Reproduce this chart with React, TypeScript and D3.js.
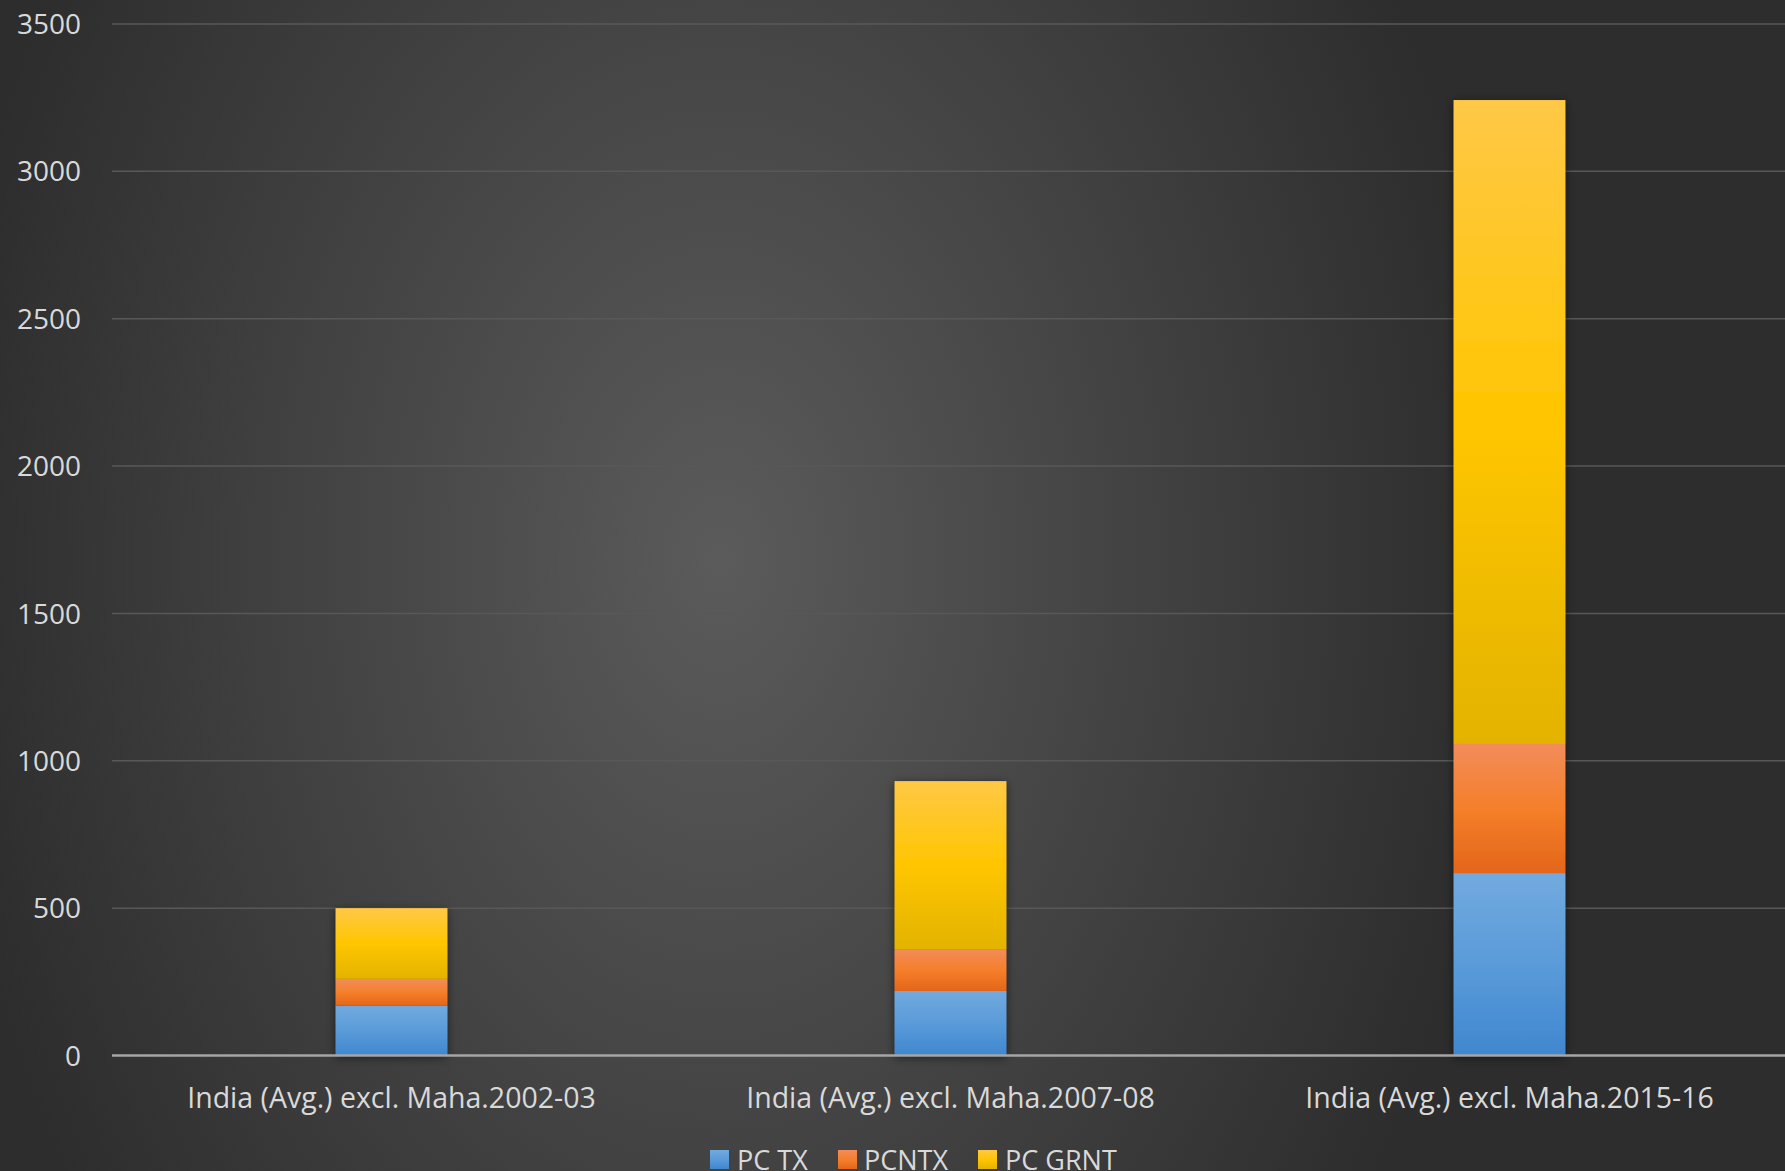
import React from "react";
import * as d3 from "d3";

const categories = [
  "India (Avg.) excl. Maha.2002-03",
  "India (Avg.) excl. Maha.2007-08",
  "India (Avg.) excl. Maha.2015-16",
];
const seriesNames = ["PC TX", "PCNTX", "PC GRNT"];
const pcTx = [169, 219, 619];
const pcNtx = [91, 142, 438];
const pcGrnt = [240, 570, 2185];
const yTicks = [0, 500, 1000, 1500, 2000, 2500, 3000, 3500];

const W = 1785;
const H = 1171;
const FONT = "'Open Sans', 'Noto Sans', sans-serif";

const gradStops = [
  [
    ["0%", "#72aadf"],
    ["50%", "#5a9bd9"],
    ["100%", "#4087cf"],
  ],
  [
    ["0%", "#f28c5a"],
    ["50%", "#f57f2a"],
    ["100%", "#e3661a"],
  ],
  [
    ["0%", "#ffc846"],
    ["50%", "#ffc600"],
    ["100%", "#e3b300"],
  ],
];

export default function App() {
  const x = d3
    .scaleBand<string>()
    .domain(categories)
    .range([112, 1789])
    .paddingInner(0.8)
    .paddingOuter(0.4);
  const y = d3.scaleLinear().domain([0, 3500]).range([1055.5, 24]);

  const table = categories.map((c, i) => ({
    cat: c,
    "PC TX": pcTx[i],
    PCNTX: pcNtx[i],
    "PC GRNT": pcGrnt[i],
  }));
  const stack = d3.stack<any>().keys(seriesNames)(table);

  const legendItems = [
    { name: "PC TX", x: 710, tx: 737 },
    { name: "PCNTX", x: 838, tx: 864 },
    { name: "PC GRNT", x: 978, tx: 1005 },
  ];

  return (
    <svg
      width={W}
      height={H}
      style={{ position: "absolute", left: 0, top: 0 }}
      fontFamily={FONT}
    >
      <defs>
        <radialGradient
          id="bg"
          gradientUnits="userSpaceOnUse"
          cx={720}
          cy={560}
          r={780}
          gradientTransform="translate(720,560) scale(1,1.45) translate(-720,-560)"
        >
          <stop offset="0%" stopColor="#5b5b5b" />
          <stop offset="100%" stopColor="#2d2d2d" />
        </radialGradient>
        {gradStops.map((stops, i) => (
          <linearGradient key={i} id={`g${i}`} x1="0" y1="0" x2="0" y2="1">
            {stops.map(([o, c]) => (
              <stop key={o} offset={o} stopColor={c} />
            ))}
          </linearGradient>
        ))}
        <filter id="shadow" x="-30%" y="-10%" width="160%" height="120%">
          <feDropShadow dx="0" dy="2" stdDeviation="5" floodColor="#000" floodOpacity="0.55" />
        </filter>
      </defs>
      <rect x={0} y={0} width={W} height={H} fill="url(#bg)" />

      {yTicks.map((t) =>
        t === 0 ? null : (
          <line
            key={t}
            x1={112}
            x2={W}
            y1={y(t)}
            y2={y(t)}
            stroke="#585858"
            strokeWidth={1.5}
          />
        )
      )}
      {yTicks.map((t) => (
        <text
          key={"l" + t}
          x={81}
          y={y(t)}
          dy="0.36em"
          textAnchor="end"
          fill="#d9d9d9"
          fontSize={28}
        >
          {t}
        </text>
      ))}

      <g filter="url(#shadow)">
        {stack.map((s, si) =>
          s.map((d, i) => (
            <rect
              key={si + "-" + i}
              x={x(categories[i])}
              width={x.bandwidth()}
              y={y(d[1])}
              height={y(d[0]) - y(d[1])}
              fill={`url(#g${si})`}
            />
          ))
        )}
      </g>

      <line x1={112} x2={W} y1={y(0)} y2={y(0)} stroke="#a6a6a6" strokeWidth={2.5} />

      {categories.map((c) => (
        <text
          key={c}
          x={(x(c) as number) + x.bandwidth() / 2}
          y={1108}
          textAnchor="middle"
          fill="#d9d9d9"
          fontSize={28.5}
        >
          {c}
        </text>
      ))}

      {legendItems.map((l, i) => (
        <g key={l.name}>
          <rect x={l.x} y={1150} width={19} height={19} fill={`url(#g${i})`} />
          <text x={l.tx} y={1170} fill="#d9d9d9" fontSize={27}>
            {seriesNames[i]}
          </text>
        </g>
      ))}
    </svg>
  );
}
